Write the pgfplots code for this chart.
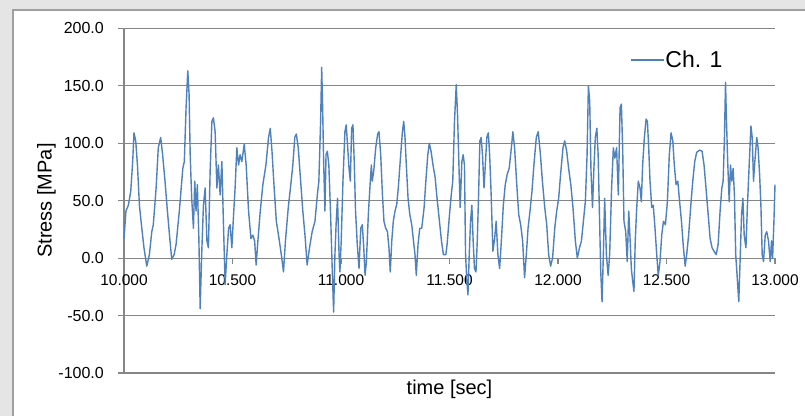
\documentclass[border=0pt]{standalone}
\usepackage{pgfplots}
\pgfplotsset{compat=1.18}
\usepackage{fontspec}
\setmainfont{Liberation Sans}

\definecolor{chone}{RGB}{79,129,189}
\definecolor{gridgray}{RGB}{134,134,134}
\definecolor{panelgray}{RGB}{229,229,229}
\definecolor{framegray}{RGB}{160,160,160}

\begin{document}
\begin{tikzpicture}
% page frame: grey surround with the white chart area inside
\clip (0,0) rectangle (805bp,-416bp);
\path[use as bounding box] (0,0) rectangle (805bp,-416bp);
\fill[panelgray] (0,0) rectangle (805bp,-416bp);
\filldraw[fill=white, draw=framegray, line width=1.2bp] (13bp,-10bp) rectangle (830bp,-440bp);

\begin{axis}[
  at={(124bp,-373bp)}, anchor=south west,
  scale only axis, width=651bp, height=344.7bp,
  xmin=10, xmax=13, ymin=-100, ymax=200,
  axis y line=left, axis x line=middle,
  axis line style={-, draw=gridgray, line width=1.1bp},
  xtick={10,10.5,11,11.5,12,12.5,13},
  ytick={-100,-50,0,50,100,150,200},
  ymajorgrids,
  grid style={draw=gridgray, line width=1.1bp},
  tick style={draw=gridgray, line width=1.1bp},
  tick align=outside,
  major tick length=6bp,
  hide obscured x ticks=false, hide obscured y ticks=false,
  clip=false,
  /pgf/number format/assume math mode=true,
  xticklabel style={font=\fontsize{15.5bp}{18bp}\selectfont, inner sep=0pt, anchor=base, yshift=-21bp},
  yticklabel style={font=\fontsize{16bp}{18bp}\selectfont, inner sep=0pt, anchor=east, xshift=-14bp},
  x tick label style={/pgf/number format/.cd, fixed, fixed zerofill, precision=3, 1000 sep={}},
  y tick label style={/pgf/number format/.cd, fixed, fixed zerofill, precision=1, 1000 sep={}},
  xlabel={time [sec]},
  xlabel style={at={(axis description cs:0.5,0)}, anchor=base, yshift=-21.3bp,
    font=\fontsize{20bp}{24bp}\selectfont},
  ylabel={Stress [MPa]},
  ylabel style={at={(axis description cs:-0.1111,0.5)}, anchor=base,
    font=\fontsize{20bp}{24bp}\selectfont},
  legend style={draw=none, fill=none, inner sep=0pt, outer sep=0pt,
    at={(rel axis cs:0.7773,0.908)}, anchor=west,
    font=\fontsize{23bp}{27bp}\selectfont,
    nodes={inner sep=1bp}},
  legend image code/.code={\draw[#1] (0bp,0bp) -- (33bp,0bp);},
]
\addplot[chone, line width=1.4bp, line join=round] table {
t s
10.000 17
10.009 41
10.020 46
10.031 58
10.040 84
10.046 109
10.054 102
10.062 81
10.071 46
10.082 26
10.092 9
10.105 -7
10.117 3
10.128 23
10.135 29
10.148 61
10.158 96
10.169 105
10.178 90
10.189 67
10.200 41
10.212 15
10.220 -1
10.231 3
10.240 12
10.255 41
10.271 78
10.278 84
10.286 131
10.294 163
10.300 142
10.305 90
10.312 52
10.320 26
10.326 67
10.332 41
10.338 64
10.345 17
10.351 -44
10.358 3
10.366 46
10.374 61
10.382 15
10.389 9
10.397 76
10.405 119
10.412 122
10.420 110
10.428 61
10.435 81
10.443 55
10.451 84
10.458 32
10.466 -23
10.474 3
10.482 26
10.489 29
10.497 9
10.505 38
10.512 61
10.520 96
10.528 81
10.535 90
10.543 84
10.554 99
10.563 81
10.574 41
10.585 17
10.594 20
10.602 15
10.609 -6
10.617 15
10.628 41
10.640 64
10.654 81
10.666 105
10.674 113
10.682 93
10.692 61
10.702 32
10.712 20
10.725 3
10.735 -12
10.744 15
10.757 44
10.767 61
10.778 81
10.787 105
10.794 108
10.803 96
10.814 67
10.824 41
10.834 20
10.844 -6
10.855 9
10.867 23
10.880 32
10.891 55
10.898 67
10.906 119
10.911 166
10.915 134
10.920 84
10.926 41
10.931 90
10.937 93
10.944 81
10.952 38
10.960 -12
10.966 -47
10.972 3
10.978 32
10.984 52
10.991 3
10.995 -12
11.001 15
11.009 67
11.018 110
11.024 116
11.031 96
11.037 78
11.043 67
11.049 113
11.055 116
11.061 84
11.067 41
11.075 12
11.083 -9
11.091 26
11.098 29
11.104 12
11.111 -15
11.117 -3
11.126 38
11.134 64
11.140 81
11.144 67
11.151 76
11.160 96
11.169 108
11.175 110
11.183 90
11.191 55
11.198 32
11.206 26
11.214 23
11.221 9
11.227 -12
11.234 15
11.241 32
11.249 41
11.257 47
11.264 61
11.275 90
11.283 110
11.289 119
11.295 105
11.301 81
11.309 52
11.317 38
11.326 29
11.334 15
11.341 3
11.347 -15
11.355 12
11.363 26
11.372 26
11.383 44
11.391 67
11.400 90
11.407 100
11.415 93
11.424 81
11.434 70
11.441 55
11.452 35
11.463 15
11.472 3
11.483 3
11.489 12
11.500 38
11.508 55
11.515 67
11.523 119
11.531 151
11.537 125
11.543 84
11.549 44
11.557 84
11.563 90
11.569 81
11.574 3
11.580 -20
11.585 -32
11.591 3
11.597 32
11.603 46
11.609 15
11.615 -9
11.622 -12
11.628 15
11.634 55
11.640 102
11.646 105
11.652 90
11.659 61
11.665 81
11.672 105
11.679 109
11.685 90
11.692 55
11.700 6
11.708 17
11.715 32
11.723 3
11.731 -9
11.739 15
11.748 46
11.757 64
11.766 73
11.775 78
11.785 96
11.792 110
11.800 96
11.809 67
11.819 38
11.828 29
11.837 15
11.846 -17
11.854 3
11.862 26
11.871 41
11.880 58
11.889 81
11.900 105
11.909 110
11.919 90
11.928 67
11.939 44
11.948 29
11.957 3
11.966 -7
11.975 0
11.985 26
11.994 41
12.003 52
12.012 73
12.023 96
12.031 102
12.040 93
12.049 78
12.059 64
12.069 44
12.080 15
12.089 0
12.099 9
12.108 15
12.117 32
12.126 49
12.134 90
12.140 150
12.146 137
12.152 76
12.159 44
12.165 76
12.172 105
12.179 113
12.185 90
12.191 38
12.197 -12
12.203 -38
12.209 3
12.215 52
12.223 3
12.231 -15
12.238 3
12.247 61
12.255 96
12.262 87
12.270 96
12.278 55
12.286 131
12.292 134
12.298 96
12.304 32
12.312 23
12.319 -3
12.326 41
12.332 17
12.338 -9
12.344 -20
12.350 -29
12.356 15
12.362 41
12.370 67
12.378 61
12.384 49
12.390 81
12.398 105
12.406 121
12.412 119
12.418 96
12.424 67
12.432 44
12.439 46
12.447 26
12.455 3
12.462 -15
12.470 -3
12.478 20
12.486 32
12.495 29
12.504 49
12.513 90
12.521 109
12.529 102
12.536 81
12.544 64
12.552 67
12.559 52
12.569 32
12.578 9
12.586 -7
12.593 3
12.602 20
12.612 46
12.621 67
12.630 84
12.639 92
12.652 94
12.664 93
12.673 81
12.682 61
12.692 38
12.701 17
12.710 9
12.719 6
12.729 3
12.738 12
12.747 41
12.755 61
12.761 67
12.767 105
12.772 153
12.776 122
12.782 84
12.789 49
12.795 81
12.801 67
12.807 78
12.813 55
12.819 3
12.827 -20
12.833 -38
12.839 -3
12.846 38
12.852 52
12.858 20
12.866 9
12.873 46
12.881 81
12.889 115
12.895 105
12.901 67
12.907 84
12.916 105
12.922 96
12.929 73
12.935 46
12.941 3
12.947 -3
12.955 20
12.962 23
12.970 15
12.978 -3
12.984 15
12.989 0
12.995 32
13.000 64
};
\addlegendentry{Ch. 1}
\end{axis}
\end{tikzpicture}
\end{document}
